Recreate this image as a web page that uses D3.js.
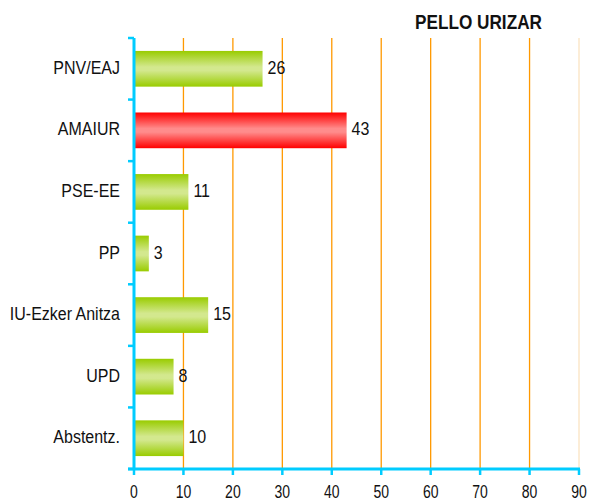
<!DOCTYPE html>
<html lang="eu">
<head>
   <meta charset="UTF-8">
   <title>Pello Urizar</title>
   <script src="https://cdn.jsdelivr.net/npm/d3@7/dist/d3.min.js"></script>
   <style>
      html, body {
         margin: 0;
         background: #fff;
         overflow: hidden;
      }

      text {
         font-family: "Liberation Sans", Arial, sans-serif;
         fill: #111;
      }
   </style>
</head>
<body>
   <svg id="chart" width="590" height="502"></svg>
   <script>
      // data
      const categories = ['PNV/EAJ', 'AMAIUR', 'PSE-EE', 'PP', 'IU-Ezker Anitza', 'UPD', 'Abstentz.']
      const values = [26, 43, 11, 3, 15, 8, 10]
      const highlight = ['AMAIUR']
      const xTicks = [0, 10, 20, 30, 40, 50, 60, 70, 80, 90]
      const title = 'PELLO URIZAR'

      const svg = d3.select('#chart')

      const margin = { top: 38, right: 11, bottom: 33, left: 134 }
      const WIDTH = 590 - margin.left - margin.right
      const HEIGHT = 502 - margin.top - margin.bottom

      // gradients
      const defs = svg.append('defs')
      const addGrad = (id, edge, mid) => {
         const g = defs.append('linearGradient')
            .attr('id', id)
            .attr('x1', 0).attr('y1', 0).attr('x2', 0).attr('y2', 1)
         g.append('stop').attr('offset', '0%').attr('stop-color', edge)
         g.append('stop').attr('offset', '45%').attr('stop-color', mid)
         g.append('stop').attr('offset', '55%').attr('stop-color', mid)
         g.append('stop').attr('offset', '100%').attr('stop-color', edge)
      }
      addGrad('green', '#99CC00', '#D3E88E')
      addGrad('red', '#FF0000', '#FF8C8C')

      const chart = svg.append('g')
         .attr('transform', `translate(${margin.left}, ${margin.top})`)

      // scales
      const xScale = d3.scaleLinear()
         .domain([0, 90])
         .range([0, WIDTH])

      const yScale = d3.scaleBand()
         .domain(categories)
         .range([0, HEIGHT])
         .paddingInner(0.42)
         .paddingOuter(0.21)

      // stretched text helper
      const label = (sel, x, y, size, sy) => sel
         .attr('transform', `translate(${x}, ${y}) scale(1, ${sy})`)
         .style('font-size', size + 'px')

      // grid lines
      chart.selectAll('.grid')
         .data(xTicks.filter(d => d > 0))
         .enter()
         .append('line')
         .attr('class', 'grid')
         .attr('x1', d => xScale(d))
         .attr('x2', d => xScale(d))
         .attr('y1', 0)
         .attr('y2', HEIGHT)
         .attr('stroke', d => d === 90 ? '#FBE3C2' : '#FF9900')
         .attr('stroke-width', 1.3)

      // bars
      chart.selectAll('.bar')
         .data(categories)
         .enter()
         .append('rect')
         .attr('class', 'bar')
         .attr('x', 1)
         .attr('y', d => yScale(d))
         .attr('width', (d, i) => xScale(values[i]) - 1)
         .attr('height', yScale.bandwidth())
         .attr('fill', d => highlight.includes(d) ? 'url(#red)' : 'url(#green)')

      // value labels
      chart.selectAll('.value')
         .data(categories)
         .enter()
         .append('text')
         .attr('class', 'value')
         .each(function (d, i) {
            label(d3.select(this), xScale(values[i]) + 5, yScale(d) + yScale.bandwidth() / 2 + 5, 16, 1.16)
         })
         .text((d, i) => values[i])

      // category labels
      chart.selectAll('.cat')
         .data(categories)
         .enter()
         .append('text')
         .attr('class', 'cat')
         .attr('text-anchor', 'end')
         .each(function (d) {
            label(d3.select(this), -14, yScale(d) + yScale.bandwidth() / 2 + 5, 16, 1.18)
         })
         .text(d => d)

      // axes
      const axisColor = '#00CCFF'
      chart.append('line')
         .attr('x1', 0).attr('x2', 0)
         .attr('y1', 0).attr('y2', HEIGHT)
         .attr('stroke', axisColor).attr('stroke-width', 3)

      const yTickPos = d3.range(categories.length + 1).map(i => i * HEIGHT / categories.length)
      chart.selectAll('.ytick')
         .data(yTickPos)
         .enter()
         .append('line')
         .attr('x1', -6).attr('x2', 0)
         .attr('y1', d => d).attr('y2', d => d)
         .attr('stroke', axisColor).attr('stroke-width', 2.5)

      chart.append('line')
         .attr('x1', -6).attr('x2', WIDTH + 1)
         .attr('y1', HEIGHT).attr('y2', HEIGHT)
         .attr('stroke', axisColor).attr('stroke-width', 3)

      chart.selectAll('.xtick')
         .data(xTicks)
         .enter()
         .append('line')
         .attr('x1', d => xScale(d)).attr('x2', d => xScale(d))
         .attr('y1', HEIGHT).attr('y2', HEIGHT + 6)
         .attr('stroke', axisColor).attr('stroke-width', 2.5)

      chart.selectAll('.xlabel')
         .data(xTicks)
         .enter()
         .append('text')
         .attr('class', 'xlabel')
         .attr('text-anchor', 'middle')
         .each(function (d) {
            label(d3.select(this), xScale(d), HEIGHT + 29, 14, 1.35)
         })
         .text(d => d)

      // title
      label(svg.append('text'), 415, 29, 17.2, 1.15)
         .style('font-weight', 'bold')
         .text(title)
   </script>
</body>
</html>
